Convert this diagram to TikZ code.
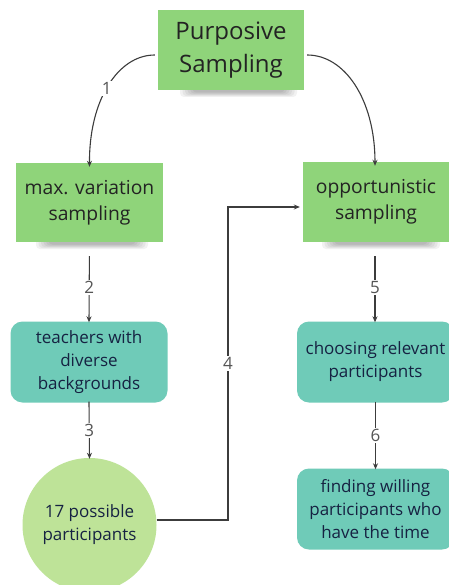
\documentclass[tikz,border=0pt]{standalone}
\usepackage{fontspec}
\setmainfont{Open Sans}
\usetikzlibrary{arrows.meta}

\definecolor{notegreen}{RGB}{143,212,122}
\definecolor{tealbox}{RGB}{111,203,184}
\definecolor{lightgreen}{RGB}{190,227,152}
\definecolor{notetext}{RGB}{35,35,35}
\definecolor{navytext}{RGB}{22,34,66}
\definecolor{linegray}{RGB}{60,60,60}
\definecolor{labelgray}{RGB}{85,85,85}

\tikzset{
  note/.style={rectangle, fill=notegreen, text=notetext, align=center, inner sep=0pt},
  tealnote/.style={rectangle, rounded corners=12pt, fill=tealbox, text=navytext,
    align=center, inner sep=0pt, minimum width=157pt, minimum height=81pt,
    font=\fontsize{17}{23}\selectfont},
  roundnote/.style={circle, fill=lightgreen, text=navytext, align=center,
    inner sep=0pt, minimum size=134pt, font=\fontsize{17}{23}\selectfont},
  link/.style={draw=linegray, line width=1.1pt, -{Stealth[length=6pt,width=5pt]}},
  steplabel/.style={fill=white, text=labelgray, inner sep=1.5pt,
    font=\fontsize{17}{20}\selectfont},
}

% soft shadow under a sticky note: stacked translucent layers
\newcommand{\noteshadow}[4]{% x-left, x-right, y-top, y-bottom
  \foreach \k in {0,...,5}{
    \fill[black, opacity=0.05, rounded corners=4pt]
      ({#1+\k*2.5}, {#3}) rectangle ({#2-\k*2.5}, {#4-\k*0.9});
  }
}

\begin{document}
\begin{tikzpicture}[x=1pt, y=-1pt]
  \useasboundingbox (0,0) rectangle (448,585);
  \fill[white] (0,0) rectangle (448,585);

  % shadows of the sticky notes
  \noteshadow{180}{297}{80}{97}
  \noteshadow{36}{148}{232}{249}
  \noteshadow{322}{440}{232}{249}

  % sticky notes
  \node[note, minimum width=146pt, minimum height=80pt,
        font=\fontsize{24}{33}\selectfont] (purp) at (231,50) {Purposive\\Sampling};
  \node[note, minimum width=147pt, minimum height=79pt,
        font=\fontsize{19.3}{26}\selectfont] (maxv) at (89.5,202.5) {max. variation\\sampling};
  \node[note, minimum width=146pt, minimum height=80pt,
        font=\fontsize{19.3}{26}\selectfont] (opp) at (376,202) {opportunistic\\sampling};

  % rounded boxes and circle
  \node[tealnote] (teach) at (89,362) {teachers with\\diverse\\backgrounds};
  \node[tealnote] (choose) at (375.5,362) {choosing relevant\\participants};
  \node[tealnote] (find) at (375.5,509) {finding willing\\participants who\\have the time};
  \node[roundnote] (circ) at (89.5,525) {17 possible\\participants};

  % connectors
  \coordinate (bend) at (228,207);
  \coordinate (corner) at (228,520);
  \draw[link] ([xshift=-3pt,yshift=-5pt]purp.west)
      .. controls (118,55) and (89,100) .. ([yshift=-4pt]maxv.north)
      node[steplabel, pos=0.52] {1};
  \draw[link] ([xshift=3pt,yshift=-5pt]purp.east)
      .. controls (345,55) and (375,100) .. ([xshift=-1pt,yshift=-4pt]opp.north);
  \draw[link, shorten <=14pt] (maxv.south) -- ([yshift=-1pt]teach.north)
      node[steplabel, midway, yshift=-5pt] {2};
  \draw[link] ([yshift=1pt]teach.south) -- ([yshift=-1pt]circ.north)
      node[steplabel, midway] {3};
  \draw[link] (circ.east |- corner) -- (corner)
      -- node[steplabel] {4} (bend) -- ([xshift=-3pt]opp.west |- bend);
  \draw[link, shorten <=14pt] ([xshift=-1pt]opp.south) -- ([xshift=-0.5pt,yshift=-1pt]choose.north)
      node[steplabel, midway, yshift=-5pt] {5};
  \draw[link] ([yshift=1pt]choose.south) -- ([yshift=-1pt]find.north)
      node[steplabel, midway] {6};
\end{tikzpicture}
\end{document}
